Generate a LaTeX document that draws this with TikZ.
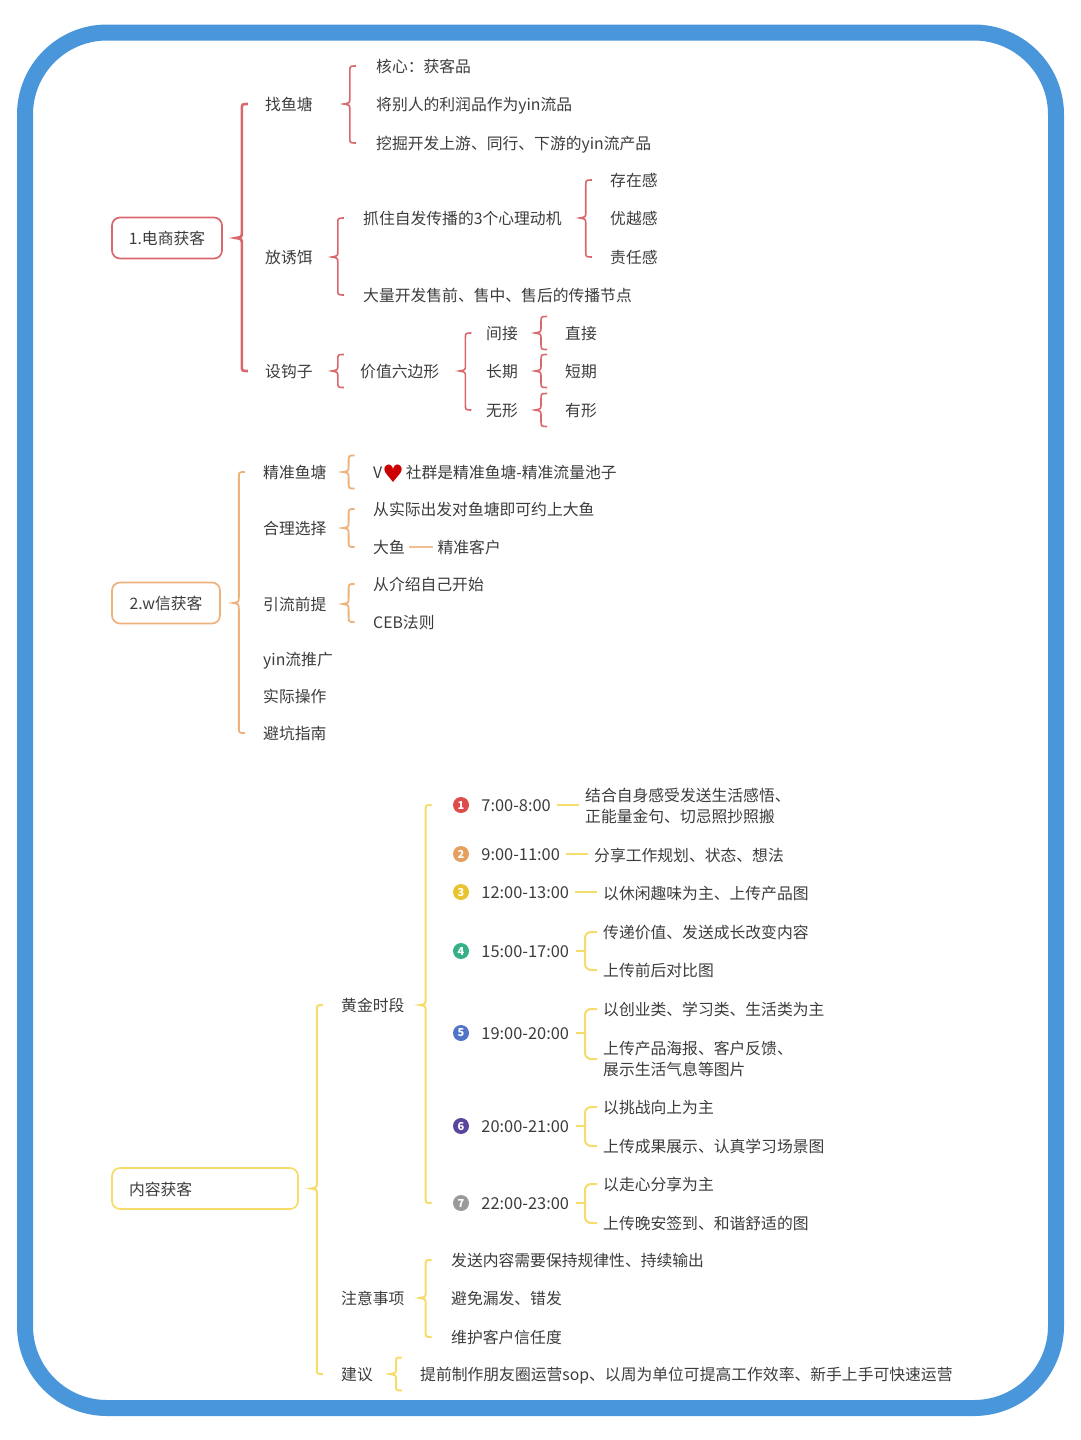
\documentclass[tikz,border=0pt]{standalone}
\usepackage{fontspec}
\setmainfont{Noto Sans CJK SC}
\newfontfamily\symfont{DejaVu Sans}
\usetikzlibrary{
    calc,
    positioning,
}
\definecolor{MyFrame}{HTML}{4A96DB}
\definecolor{MyRed}{HTML}{D9686C}
\definecolor{MyOrange}{HTML}{EDB27C}
\definecolor{MyYellow}{HTML}{F6DC6A}
\definecolor{MyText}{HTML}{3C3C3C}
\tikzstyle{txt}=[inner sep=0mm,anchor=west,text=MyText,font=\fontsize{15.8}{21}\selectfont,text height=15pt,text depth=2pt]
\tikzstyle{clock}=[inner sep=0mm,anchor=west,text=MyText,font=\fontsize{16.4}{21}\selectfont,text height=15pt,text depth=2pt]
\tikzstyle{para}=[inner sep=0mm,anchor=west,text=MyText,font=\fontsize{15.8}{21}\selectfont,align=left]
\tikzstyle{box}=[draw,rounded corners=8pt,line width=1.7pt,inner xsep=0pt,minimum height=41pt,text=MyText,font=\fontsize{15.8}{21}\selectfont,text height=15pt,text depth=2pt]
\tikzstyle{badge}=[circle,inner sep=0mm,minimum width=16pt,text=white,font=\fontsize{11}{11}\selectfont\bfseries]
\tikzstyle{redmain}=[draw=MyRed,line width=2.6pt]
\tikzstyle{redline}=[draw=MyRed,line width=1.6pt]
\tikzstyle{orgline}=[draw=MyOrange,line width=1.8pt]
\tikzstyle{ylwline}=[draw=MyYellow,line width=2pt]
\tikzstyle{link}=[draw=MyYellow,line width=2pt,shorten >=6pt,shorten <=6pt]
\newcommand{\Bracket}[5][]{%
    \draw[#1] let \p1=(#2.east),\p2=(#3),\p3=(#4),\n1={\x1+#5pt} in
        (\n1+6pt,\y2) .. controls (\n1,\y2) .. (\n1,\y2-6pt) -- (\n1,\y1+6pt)
        .. controls (\n1,\y1+1pt) .. (\n1-6pt,\y1) .. controls (\n1,\y1-1pt) .. (\n1,\y1-6pt)
        -- (\n1,\y3+6pt) .. controls (\n1,\y3) .. (\n1+6pt,\y3);
}
\newcommand{\BracketOne}[4][]{%
    \coordinate (#2 up) at ([yshift=16.5pt]#3.center);
    \coordinate (#2 low) at ([yshift=-16.5pt]#3.center);
    \Bracket[#1]{#2}{#2 up}{#2 low}{#4}
}
\newcommand{\Fork}[3]{%
    \draw[ylwline] ([xshift=7pt]#1.east) -- ([xshift=-18pt]#1.east -| #2.west);
    \draw[ylwline,rounded corners=6pt] ([xshift=-6pt]#2.west) -| ([xshift=-18pt]#3.west) -- ([xshift=-6pt]#3.west);
}
\begin{document}
\begin{tikzpicture}[x=1pt,y=-1pt]
    \useasboundingbox (0,0) rectangle (1080,1440);
    \draw[MyFrame,line width=16pt,rounded corners=82pt] (25,32.5) rectangle (1056,1408);

    % Electronic commerce
    \node[box,draw=MyRed,minimum width=110pt] (Ecommerce) at (167,238) {1.电商获客};
    \node[txt] (Pond) at (265,104) {找鱼塘};
    \node[txt] (Bait) at (265,257) {放诱饵};
    \node[txt] (Hook) at (265,371) {设钩子};
    \Bracket[redmain]{Ecommerce}{Pond}{Hook}{19}
    \node[txt] (Core) at (376,66) {核心：获客品};
    \node[txt] (Profit) at (376,104) {将别人的利润品作为yin流品};
    \node[txt] (Mining) at (376,143) {挖掘开发上游、同行、下游的yin流产品};
    \Bracket[redline]{Pond}{Core}{Mining}{37}
    \node[txt] (Motive) at (363,218) {抓住自发传播的3个心理动机};
    \node[txt] (Spread) at (363,295) {大量开发售前、售中、售后的传播节点};
    \Bracket[redline]{Bait}{Motive}{Spread}{25}
    \node[txt] (Exist) at (610,180) {存在感};
    \node[txt] (Superior) at (610,218) {优越感};
    \node[txt] (Duty) at (610,257) {责任感};
    \Bracket[redline]{Motive}{Exist}{Duty}{24}
    \node[txt] (Hexagon) at (360,371) {价值六边形};
    \BracketOne[redline]{Hook}{Hexagon}{25}
    \node[txt] (Indirect) at (486,333) {间接};
    \node[txt] (Long) at (486,371) {长期};
    \node[txt] (Intangible) at (486,410) {无形};
    \Bracket[redline]{Hexagon}{Indirect}{Intangible}{26}
    \node[txt] (Direct) at (565,333) {直接};
    \node[txt] (Short) at (565,371) {短期};
    \node[txt] (Tangible) at (565,410) {有形};
    \BracketOne[redline]{Indirect}{Direct}{23}
    \BracketOne[redline]{Long}{Short}{23}
    \BracketOne[redline]{Intangible}{Tangible}{23}

    % Wechat
    \node[box,draw=MyOrange,minimum width=108pt] (Wechat) at (166,603) {2.w信获客};
    \node[txt] (Exact) at (263,472) {精准鱼塘};
    \node[txt] (Choice) at (263,528) {合理选择};
    \node[txt] (Premise) at (263,604) {引流前提};
    \node[txt] (Promote) at (263,659) {yin流推广};
    \node[txt] (Practice) at (263,696) {实际操作};
    \node[txt] (Avoid) at (263,733) {避坑指南};
    \Bracket[orgline]{Wechat}{Exact}{Avoid}{18}
    \node[txt] (Group) at (373,472) {V\raisebox{-3.5pt}{\symfont\fontsize{24}{21}\selectfont\textcolor{red!80!black}{♥}}\hspace{2pt}社群是精准鱼塘-精准流量池子};
    \BracketOne[orgline]{Exact}{Group}{22}
    \node[txt] (Reality) at (373,509) {从实际出发对鱼塘即可约上大鱼};
    \node[txt] (Bigfish) at (373,547) {大鱼};
    \node[txt,right=32.4pt of Bigfish] (Client) {精准客户};
    \draw[draw=MyOrange!85!white,line width=2pt,shorten >=4pt,shorten <=4.4pt] (Bigfish) -- (Client);
    \Bracket[orgline]{Choice}{Reality}{Bigfish}{22}
    \node[txt] (Intro) at (373,584) {从介绍自己开始};
    \node[txt] (Ceb) at (373,622) {CEB法则};
    \Bracket[orgline]{Premise}{Intro}{Ceb}{22}

    % Content
    \node[box,draw=MyYellow,minimum width=186pt,text width=186pt,inner xsep=0pt,align=left] (Content) at (205,1188.5) {\hspace*{17pt}内容获客};
    \node[txt] (Golden) at (341,1005) {黄金时段};
    \node[txt] (Notice) at (341,1298) {注意事项};
    \node[txt] (Advice) at (341,1374) {建议};
    \Bracket[ylwline]{Content}{Golden}{Advice}{18}

    % Time table
    \node[badge,fill={rgb,255:red,222;green,75;blue,75}] (N1) at (461,805) {1};
    \node[badge,fill={rgb,255:red,229;green,160;blue,96}] (N2) at (461,854) {2};
    \node[badge,fill={rgb,255:red,232;green,197;blue,48}] (N3) at (461,892) {3};
    \node[badge,fill={rgb,255:red,53;green,176;blue,136}] (N4) at (461,951) {4};
    \node[badge,fill={rgb,255:red,79;green,116;blue,200}] (N5) at (461,1033) {5};
    \node[badge,fill={rgb,255:red,90;green,69;blue,158}] (N6) at (461,1126) {6};
    \node[badge,fill={rgb,255:red,154;green,154;blue,154}] (N7) at (461,1203) {7};
    \Bracket[ylwline]{Golden}{N1}{N7}{21}
    \node[clock,right=12pt of N1] (T1) {7:00-8:00};
    \node[clock,right=12pt of N2] (T2) {9:00-11:00};
    \node[clock,right=12pt of N3] (T3) {12:00-13:00};
    \node[clock,right=12pt of N4] (T4) {15:00-17:00};
    \node[clock,right=12pt of N5] (T5) {19:00-20:00};
    \node[clock,right=12pt of N6] (T6) {20:00-21:00};
    \node[clock,right=12pt of N7] (T7) {22:00-23:00};
    \node[para] (M1) at (585,806) {结合自身感受发送生活感悟、\\正能量金句、切忌照抄照搬};
    \node[txt] (M2) at (594,855) {分享工作规划、状态、想法};
    \node[txt] (M3) at (603,893) {以休闲趣味为主、上传产品图};
    \draw[link] (T1.east) -- (T1.east -| M1.west);
    \draw[link] (T2.east) -- (T2.east -| M2.west);
    \draw[link] (T3.east) -- (T3.east -| M3.west);
    \node[txt] (M4a) at (603,932) {传递价值、发送成长改变内容};
    \node[txt] (M4b) at (603,970) {上传前后对比图};
    \Fork{T4}{M4a}{M4b}
    \node[txt] (M5a) at (603,1009) {以创业类、学习类、生活类为主};
    \node[para] (M5b) at (603,1059) {上传产品海报、客户反馈、\\展示生活气息等图片};
    \Fork{T5}{M5a}{M5b}
    \node[txt] (M6a) at (603,1107) {以挑战向上为主};
    \node[txt] (M6b) at (603,1146) {上传成果展示、认真学习场景图};
    \Fork{T6}{M6a}{M6b}
    \node[txt] (M7a) at (603,1184) {以走心分享为主};
    \node[txt] (M7b) at (603,1223) {上传晚安签到、和谐舒适的图};
    \Fork{T7}{M7a}{M7b}

    % Notes
    \node[txt] (Regular) at (451,1260) {发送内容需要保持规律性、持续输出};
    \node[txt] (Missing) at (451,1298) {避免漏发、错发};
    \node[txt] (Trust) at (451,1337) {维护客户信任度};
    \Bracket[ylwline]{Notice}{Regular}{Trust}{21}
    \node[txt] (Sop) at (420,1374) {提前制作朋友圈运营sop、以周为单位可提高工作效率、新手上手可快速运营};
    \BracketOne[ylwline]{Advice}{Sop}{23}
\end{tikzpicture}
\end{document}
